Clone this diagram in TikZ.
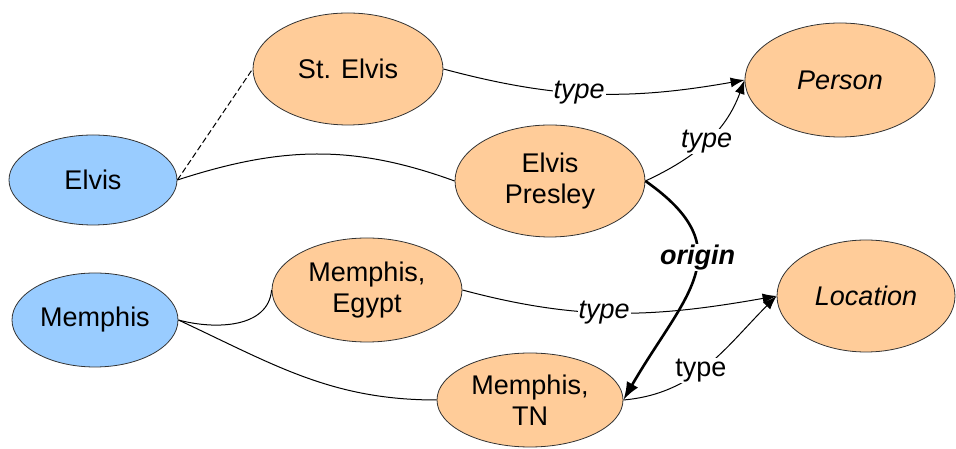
\documentclass[tikz,border=0pt]{standalone}
\usepackage{fontspec}
\setmainfont{Liberation Sans}
\usetikzlibrary{shapes.geometric,arrows.meta}
\definecolor{peach}{HTML}{FFCC99}
\definecolor{skyb}{HTML}{99CCFF}
\tikzset{
  ent/.style={ellipse, draw=black!80, line width=0.8pt, inner sep=0pt, align=center, font=\fontsize{27}{31}\selectfont},
  cls/.style={ent, fill=peach},
  term/.style={ent, fill=skyb},
  link/.style={line width=1pt, draw=black},
  rel/.style={link, -{Latex[length=14pt,width=10pt]}},
  lab/.style={fill=white, inner sep=1pt, font=\fontsize{27}{31}\selectfont}
}
\begin{document}
\begin{tikzpicture}[x=1pt,y=1pt]
\useasboundingbox (0,0) rectangle (956,449);
\node[term, minimum width=168pt, minimum height=90pt] (elvis) at (93,269) {Elvis};
\node[term, minimum width=166pt, minimum height=94pt] (memphis) at (95,129) {Memphis};
\node[cls, minimum width=190pt, minimum height=112pt] (stelvis) at (348,380) {St. Elvis};
\node[cls, minimum width=190pt, minimum height=112pt] (presley) at (550,268) {Elvis\\Presley};
\node[cls, minimum width=190pt, minimum height=114pt] (person) at (840,369) {\itshape Person};
\node[cls, minimum width=190pt, minimum height=104pt] (egypt) at (367,159) {Memphis,\\Egypt};
\node[cls, minimum width=186pt, minimum height=94pt] (tn) at (530,49) {Memphis,\\TN};
\node[cls, minimum width=178pt, minimum height=112pt] (location) at (866,153) {\itshape Location};

\draw[link, dash pattern=on 6pt off 3pt] (elvis.east) -- (stelvis.west);
\draw[link] (elvis.east) to[out=18,in=160] (presley.west);
\draw[link] (memphis.east) to[out=-15,in=-95] (egypt.west);
\draw[link] (memphis.east) to[out=-25,in=180] (tn.west);

\draw[rel] (stelvis.east) to[out=-15,in=190] node[lab, pos=0.45] {\itshape type} (person.west);
\draw[rel] (presley.east) to[out=25,in=250] node[lab, pos=0.5] {\itshape type} (person.west);
\draw[rel] (egypt.east) to[out=-15,in=190] node[lab, pos=0.45] {\itshape type} (location.west);
\draw[rel] (tn.east) to[out=5,in=225] node[lab, pos=0.45] {type} (location.west);
\draw[line width=2.6pt, -{Latex[length=18pt,width=13pt]}] (presley.east) to[out=-35,in=60,looseness=1.4] node[lab, pos=0.4] {\bfseries\itshape origin} (tn.east);
\end{tikzpicture}
\end{document}
